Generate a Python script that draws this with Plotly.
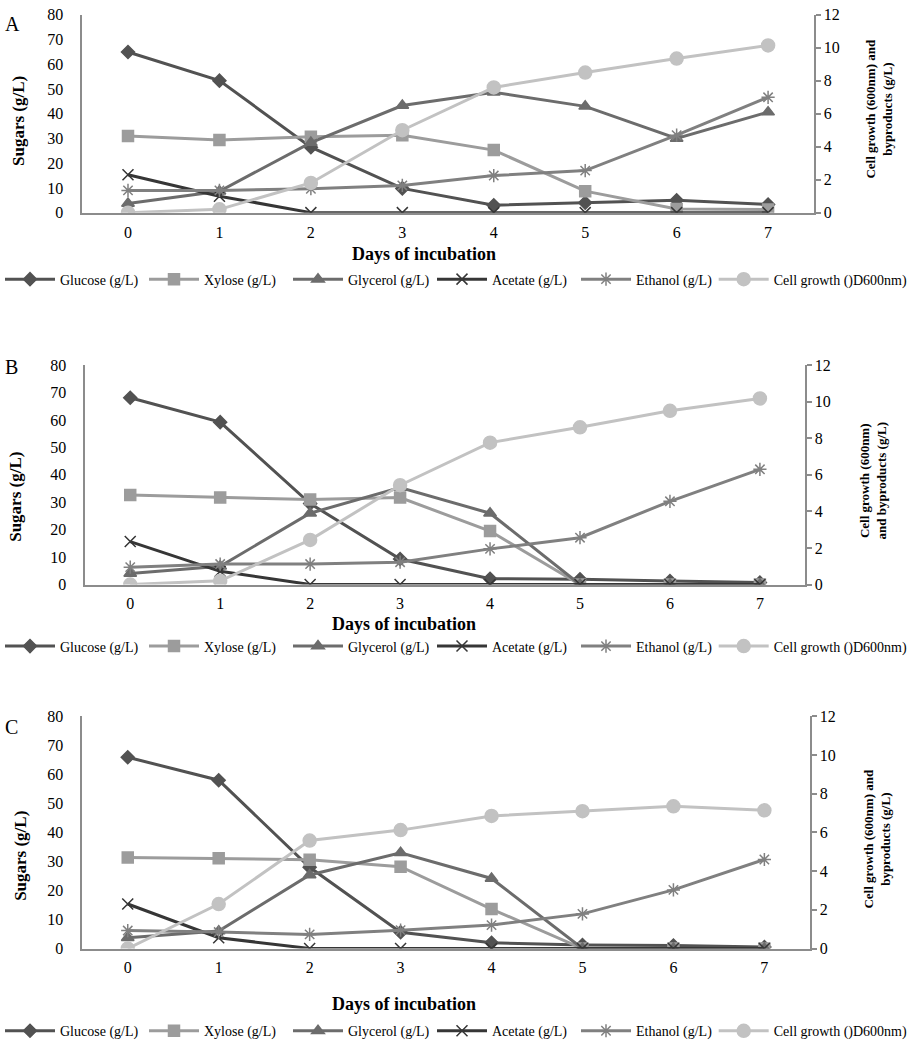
import plotly.graph_objects as go

days = [0, 1, 2, 3, 4, 5, 6, 7]
x_ticks = [0, 1, 2, 3, 4, 5, 6, 7]

# Panel A
A_glucose = [65, 53.4, 26.5, 9.8, 3, 4, 5, 3.3]
A_xylose = [31, 29.4, 30.7, 31.3, 25.3, 8.7, 1.5, 1.3]
A_glycerol = [0.55, 1.3, 4.25, 6.5, 7.3, 6.45, 4.5, 6.1]
A_acetate = [2.3, 1.0, 0, 0, 0, 0, 0, 0]
A_ethanol = [1.35, 1.35, 1.45, 1.65, 2.25, 2.55, 4.7, 7.0]
A_growth = [0, 0.2, 1.8, 5.0, 7.6, 8.5, 9.35, 10.15]

# Panel B
B_glucose = [68.1, 59.2, 29.5, 9.3, 2.1, 1.9, 1.3, 0.7]
B_xylose = [32.6, 31.7, 31.0, 31.7, 19.5, 0, 0, 0]
B_glycerol = [0.6, 1.0, 3.9, 5.3, 3.9, 0, 0, 0]
B_acetate = [2.35, 0.72, 0, 0, 0, 0, 0, 0]
B_ethanol = [0.95, 1.12, 1.12, 1.22, 1.95, 2.56, 4.55, 6.3]
B_growth = [0, 0.2, 2.44, 5.43, 7.76, 8.6, 9.5, 10.18]

# Panel C
C_glucose = [65.9, 58.0, 28.0, 5.6, 2.0, 1.2, 1.0, 0.5]
C_xylose = [31.4, 31.1, 30.6, 28.2, 13.6, 0, 0, 0]
C_glycerol = [0.56, 0.9, 3.8, 4.95, 3.62, 0, 0, 0]
C_acetate = [2.3, 0.56, 0, 0, 0, 0, 0, 0]
C_ethanol = [0.93, 0.85, 0.73, 0.95, 1.21, 1.79, 3.03, 4.6]
C_growth = [0, 2.3, 5.58, 6.12, 6.85, 7.1, 7.35, 7.14]

series_names = ["Glucose (g/L)", "Xylose (g/L)", "Glycerol (g/L)",
                "Acetate (g/L)", "Ethanol (g/L)", "Cell growth ()D600nm)"]
left_ticks = [0, 10, 20, 30, 40, 50, 60, 70, 80]
right_ticks = [0, 2, 4, 6, 8, 10, 12]

colors = ["#525252", "#9c9c9c", "#6c6c6c", "#363636", "#808080", "#c2c2c2"]
symbols = ["diamond", "square", "triangle-up", "x-thin-open", "asterisk-open", "circle"]
msizes = [10, 11, 11, 11, 11, 13]
on_right = [False, False, True, True, True, True]

FONT = "Liberation Serif"
W, H = 913, 1050
AXC = "#8c8c8c"
ENTRY_STEP = 144  # px between legend entries

panels = [
    dict(letter="A", data=[A_glucose, A_xylose, A_glycerol, A_acetate, A_ethanol, A_growth],
         xd=[83, 821], yd=[7, 208], xs="x", yl="y", yr="y2", leg=("legend", "legend2"), legy=276,
         title_x=428, title_y=250, let_xy=(13, 16), sug_xy=(18, 115), rt_xy=(887, 102),
         rt_text="Cell growth (600nm) and<br>byproducts (g/L)"),
    dict(letter="B", data=[B_glucose, B_xylose, B_glycerol, B_acetate, B_ethanol, B_growth],
         xd=[86, 812], yd=[363, 586], xs="x2", yl="y3", yr="y4", leg=("legend3", "legend4"), legy=649,
         title_x=408, title_y=626, let_xy=(12, 365), sug_xy=(16, 497), rt_xy=(881, 480),
         rt_text="Cell growth (600nm)<br>and byproducts (g/L)"),
    dict(letter="C", data=[C_glucose, C_xylose, C_glycerol, C_acetate, C_ethanol, C_growth],
         xd=[83, 817], yd=[720, 956], xs="x3", yl="y5", yr="y6", leg=("legend5", "legend6"), legy=1040,
         title_x=408, title_y=1012, let_xy=(12, 731), sug_xy=(20, 862), rt_xy=(885, 844),
         rt_text="Cell growth (600nm) and<br>byproducts (g/L)"),
]

fig = go.Figure()
layout = dict(width=W, height=H, margin=dict(l=0, r=0, t=0, b=0),
              paper_bgcolor="white", plot_bgcolor="white",
              font=dict(family=FONT, color="black", size=16), annotations=[])

def axname(ref):
    return ref[0] + "axis" + ref[1:]

for p in panels:
    for i, vals in enumerate(p["data"]):
        fig.add_trace(go.Scatter(
            x=days, y=vals, name=series_names[i], mode="lines+markers",
            xaxis=p["xs"], yaxis=p["yr"] if on_right[i] else p["yl"],
            line=dict(color=colors[i], width=3),
            marker=dict(symbol=symbols[i], size=msizes[i], color=colors[i],
                        line=dict(color=colors[i], width=1.5)),
            legend=p["leg"][1] if i == 5 else p["leg"][0], showlegend=True))
    x0, x1 = p["xd"][0] / W, p["xd"][1] / W
    y0, y1 = 1 - p["yd"][1] / H, 1 - p["yd"][0] / H
    layout[axname(p["xs"])] = dict(
        domain=[x0, x1], anchor=p["yl"], range=[-0.5, 7.5], tickvals=x_ticks,
        showgrid=False, zeroline=False, showline=True, linecolor=AXC, linewidth=1.5,
        ticks="", ticklabelstandoff=4, tickfont=dict(size=16, family=FONT))
    layout[axname(p["yl"])] = dict(
        domain=[y0, y1], anchor=p["xs"], range=[0, 80], tickvals=left_ticks,
        showgrid=False, zeroline=False, showline=True, linecolor=AXC, linewidth=1.5,
        ticks="", ticklabelstandoff=14, tickfont=dict(size=16, family=FONT))
    layout[axname(p["yr"])] = dict(
        overlaying=p["yl"], side="right", anchor=p["xs"], range=[0, 12], tickvals=right_ticks,
        showgrid=False, zeroline=False, showline=True, linecolor=AXC, linewidth=1.5,
        ticks="outside", ticklen=5, tickcolor=AXC, tickwidth=1.5,
        tickfont=dict(size=16, family=FONT))
    layout[p["leg"][0]] = dict(
        orientation="h", x=0.0, xanchor="left", y=1 - p["legy"] / H, yanchor="middle",
        font=dict(size=14, family=FONT), itemwidth=50, entrywidth=ENTRY_STEP - 65,
        bgcolor="rgba(0,0,0,0)", tracegroupgap=0)
    layout[p["leg"][1]] = dict(
        orientation="h", x=(5 * ENTRY_STEP) / W, xanchor="left", y=1 - p["legy"] / H,
        yanchor="middle", font=dict(size=14, family=FONT), itemwidth=50,
        bgcolor="rgba(0,0,0,0)", tracegroupgap=0)
    layout["annotations"] += [
        dict(text="<b>Days of incubation</b>", x=p["title_x"] / W, y=1 - p["title_y"] / H,
             xref="paper", yref="paper", showarrow=False,
             font=dict(size=18, family=FONT, color="black"), xanchor="center", yanchor="middle"),
        dict(text=p["letter"], x=p["let_xy"][0] / W, y=1 - p["let_xy"][1] / H,
             xref="paper", yref="paper", showarrow=False,
             font=dict(size=20, family=FONT, color="black"), xanchor="center", yanchor="middle"),
        dict(text="<b>Sugars (g/L)</b>", x=p["sug_xy"][0] / W, y=1 - p["sug_xy"][1] / H,
             xref="paper", yref="paper", showarrow=False, textangle=-90,
             font=dict(size=17, family=FONT, color="black"), xanchor="center", yanchor="middle"),
        dict(text="<b>" + p["rt_text"].replace("<br>", "</b><br><b>") + "</b>",
             x=p["rt_xy"][0] / W, y=1 - p["rt_xy"][1] / H,
             xref="paper", yref="paper", showarrow=False, textangle=-90,
             font=dict(size=13, family=FONT, color="black"), xanchor="center", yanchor="middle"),
    ]

fig.update_layout(**layout)
fig.write_html("out.html", config={"displayModeBar": False},
               post_script="document.body.style.margin='0';document.body.style.padding='0';")
